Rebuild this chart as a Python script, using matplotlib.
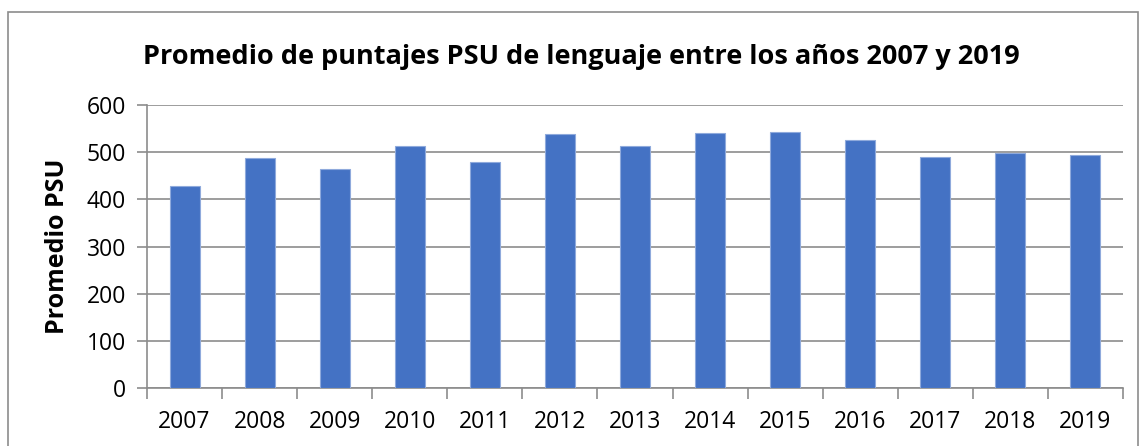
import matplotlib.pyplot as plt
import numpy as np
from matplotlib.patches import Rectangle

years = ["2007", "2008", "2009", "2010", "2011", "2012", "2013",
         "2014", "2015", "2016", "2017", "2018", "2019"]
promedio = [428, 487, 465, 514, 480, 538, 514, 540, 542, 525, 489, 499, 493]

plt.rcParams["font.family"] = ["Open Sans", "DejaVu Sans"]

fig = plt.figure(figsize=(11.45, 4.46), dpi=100)
ax = fig.add_axes([0.1284, 0.130, 0.8524, 0.6346])

x = np.arange(len(years))
ax.bar(x, promedio, width=0.4, color="#4472C4", edgecolor="#8faadc",
       linewidth=0.8, zorder=3)

ax.set_xlim(-0.5, len(years) - 0.5)
ax.set_ylim(0, 600)
ax.set_yticks(range(0, 601, 100))
ax.yaxis.grid(True, color="#8c8c8c", linewidth=1.2, zorder=0)

# category labels centred, ticks on category boundaries
ax.set_xticks(x)
ax.set_xticklabels(years, fontsize=16.5)
ax.set_xticks(np.arange(-0.5, len(years), 1), minor=True)
ax.tick_params(axis="x", which="major", length=0, pad=16)
ax.tick_params(axis="x", which="minor", length=8, color="#8c8c8c", width=1.2)
ax.tick_params(axis="y", length=7, color="#8c8c8c", width=1.2, labelsize=16.5, pad=8)

for s in ["top", "right"]:
    ax.spines[s].set_visible(False)
for s in ["left", "bottom"]:
    ax.spines[s].set_color("#8c8c8c")
    ax.spines[s].set_linewidth(1.2)

fig.text(0.0498, 0.4467, "Promedio PSU", rotation=90, ha="center", va="center",
         fontsize=18, fontweight="bold")
fig.text(0.508, 0.872, "Promedio de puntajes PSU de lenguaje entre los años 2007 y 2019",
         ha="center", va="center", fontsize=19.5, fontweight="bold")

# chart frame
fig.patches.append(Rectangle((0.007, -0.01), 0.987, 0.983, transform=fig.transFigure,
                             fill=False, edgecolor="#8c8c8c", linewidth=1.2))

fig.savefig("out.png", dpi=100)
